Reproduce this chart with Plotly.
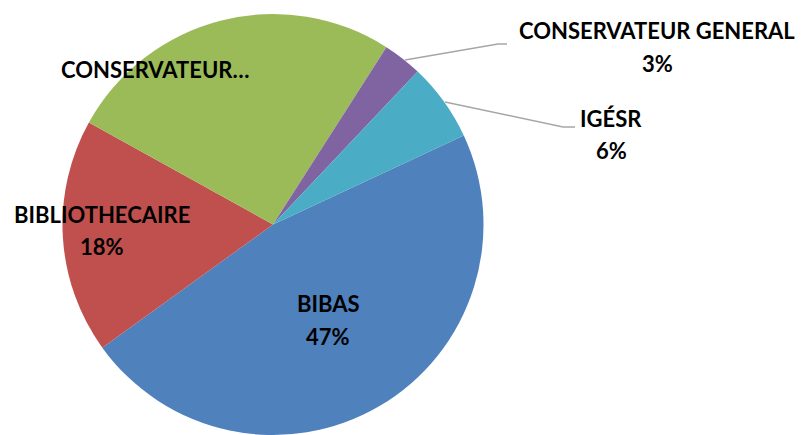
import plotly.graph_objects as go

labels = ["BIBAS", "BIBLIOTHECAIRE", "CONSERVATEUR", "CONSERVATEUR GENERAL", "IGÉSR"]
values = [47, 18, 26, 3, 6]
display_names = ["BIBAS", "BIBLIOTHECAIRE", "CONSERVATEUR…", "CONSERVATEUR GENERAL", "IGÉSR"]
show_pct = [True, True, False, True, True]
colors = ["#4F81BD", "#C0504D", "#9BBB59", "#8064A2", "#4BACC6"]

W, H = 806, 435
# label anchor positions in pixels (x center, name line y, pct line y)
label_pos = {
    "BIBAS": (328, 303, 336),
    "BIBLIOTHECAIRE": (102, 215, 247),
    "CONSERVATEUR": (155, 69, None),
    "CONSERVATEUR GENERAL": (657, 30, 63),
    "IGÉSR": (611, 119, 151),
}
leaders = {
    "CONSERVATEUR GENERAL": [(405, 60), (498, 44), (507, 44)],
    "IGÉSR": [(445, 102), (563, 127), (575, 127)],
}

def px(x):
    return x / W

def py(y):
    return 1 - y / H

fig = go.Figure()
fig.add_trace(go.Pie(
    labels=labels, values=values, sort=False, direction="clockwise", rotation=65,
    marker=dict(colors=colors, line=dict(width=0)),
    textinfo="none", hoverinfo="label+percent",
    domain=dict(x=[px(62), px(484)], y=[py(435), py(14)]),
    showlegend=False,
))

total = sum(values)
font = dict(family="Lato, 'Open Sans', sans-serif", size=22, color="black")
annotations = []
for lab, name, v, sp in zip(labels, display_names, values, show_pct):
    x, y1, y2 = label_pos[lab]
    annotations.append(dict(x=px(x), y=py(y1), xref="paper", yref="paper", text="<b>%s</b>" % name,
                            showarrow=False, font=font, xanchor="center", yanchor="middle"))
    if sp and y2 is not None:
        annotations.append(dict(x=px(x), y=py(y2), xref="paper", yref="paper",
                                text="<b>%d%%</b>" % round(100 * v / total),
                                showarrow=False, font=font, xanchor="center", yanchor="middle"))

shapes = []
for lab, pts in leaders.items():
    path = "M " + " L ".join("%f,%f" % (px(a), py(b)) for a, b in pts)
    shapes.append(dict(type="path", path=path, xref="paper", yref="paper",
                       line=dict(color="#A6A6A6", width=1.5)))

fig.update_layout(
    width=W, height=H, margin=dict(l=0, r=0, t=0, b=0),
    paper_bgcolor="white", plot_bgcolor="white",
    annotations=annotations, shapes=shapes,
)
fig.write_html("out.html", config={"displayModeBar": False},
               post_script="document.body.style.margin='0';document.body.style.overflow='hidden';")
